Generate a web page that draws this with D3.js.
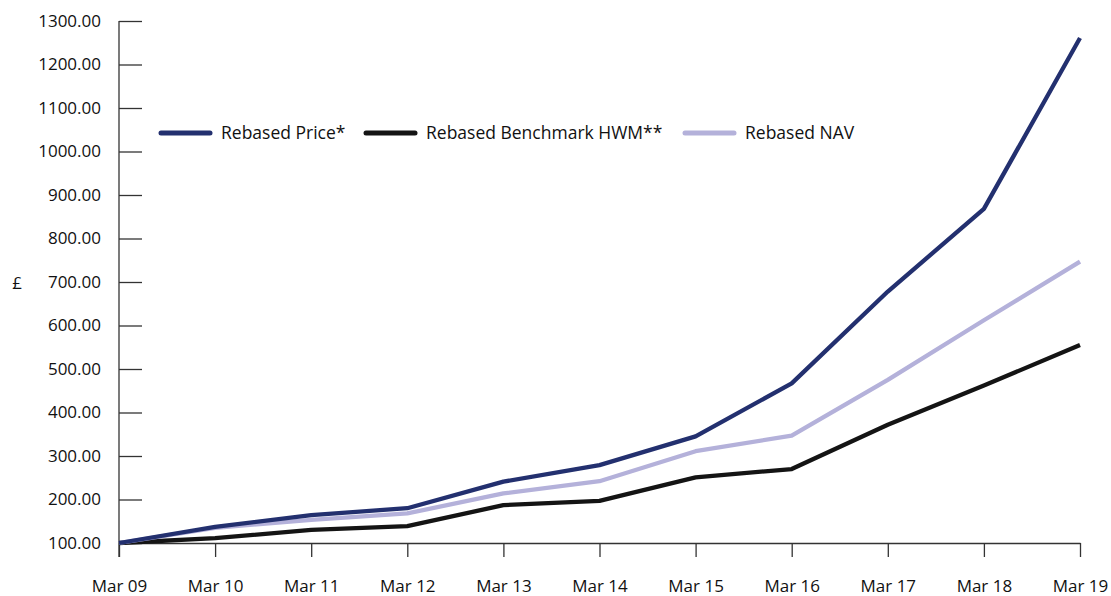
<!DOCTYPE html>
<html>
<head>
<meta charset="utf-8">
<script src="https://cdn.jsdelivr.net/npm/d3@7"></script>
<style>
  html, body { margin: 0; padding: 0; background: #fff; }
  svg text { font-family: "Open Sans", "DejaVu Sans", sans-serif; fill: #111; font-weight: 500; }
</style>
</head>
<body>
<svg id="chart" width="1111" height="596"></svg>
<script>
const categories = ["Mar 09","Mar 10","Mar 11","Mar 12","Mar 13","Mar 14","Mar 15","Mar 16","Mar 17","Mar 18","Mar 19"];
const rebasedPrice = [100, 137, 164, 180, 241, 279, 345, 467, 678, 868, 1261];
const rebasedBenchmark = [100, 111, 130, 139, 187, 197, 251, 270, 372, 462, 555];
const rebasedNAV = [100, 135, 153, 168, 214, 242, 311, 347, 475, 612, 747];
const yTicks = [100,200,300,400,500,600,700,800,900,1000,1100,1200,1300];
const seriesNames = ["Rebased Price*", "Rebased Benchmark HWM**", "Rebased NAV"];
const seriesColors = ["#23306f", "#141414", "#b4b1da"];

const svg = d3.select("#chart");
const x = d3.scalePoint().domain(categories).range([119, 1080]);
const y = d3.scaleLinear().domain([100, 1300]).range([543, 21]);

// Y axis
const yAxis = d3.axisLeft(y).tickValues(yTicks).tickFormat(d3.format(".2f"))
  .tickSizeInner(-23).tickSizeOuter(0).tickPadding(18);
const gy = svg.append("g").attr("transform", "translate(119,0)").call(yAxis);
gy.select(".domain").remove();
gy.selectAll(".tick line").attr("stroke", "#333").attr("stroke-width", 1.3);
gy.selectAll(".tick text").attr("font-size", 17).style("font-family", "'Open Sans', sans-serif").attr("fill", "#111");
svg.append("line").attr("x1", 119).attr("x2", 119).attr("y1", 21).attr("y2", 557)
  .attr("stroke", "#333").attr("stroke-width", 1.3);

// X axis
const xAxis = d3.axisBottom(x).tickSizeInner(14).tickSizeOuter(0).tickPadding(23);
const gx = svg.append("g").attr("transform", "translate(0,543)").call(xAxis);
gx.select(".domain").attr("stroke", "#333").attr("stroke-width", 1.3);
gx.selectAll(".tick line").attr("stroke", "#333").attr("stroke-width", 1.3);
gx.selectAll(".tick text").attr("font-size", 17).style("font-family", "'Open Sans', sans-serif").attr("fill", "#111");

// £ label
svg.append("text").attr("x", 17).attr("y", 289).attr("text-anchor", "middle")
  .attr("font-size", 17).text("£");

// Lines
const line = d3.line().x((d, i) => x(categories[i])).y(d => y(d));
const data = [rebasedPrice, rebasedBenchmark, rebasedNAV];
[1, 2, 0].forEach(k => {
  svg.append("path").datum(data[k]).attr("d", line)
    .attr("fill", "none").attr("stroke", seriesColors[k])
    .attr("stroke-width", 4.3).attr("stroke-linejoin", "round");
});

// Legend
const legendX = [161, 366, 685];
seriesNames.forEach((name, i) => {
  svg.append("line").attr("x1", legendX[i]).attr("x2", legendX[i] + 49)
    .attr("y1", 133).attr("y2", 133)
    .attr("stroke", seriesColors[i]).attr("stroke-width", 5).attr("stroke-linecap", "round");
  svg.append("text").attr("x", legendX[i] + 60).attr("y", 139)
    .attr("font-size", 17.5).text(name);
});
</script>
</body>
</html>
